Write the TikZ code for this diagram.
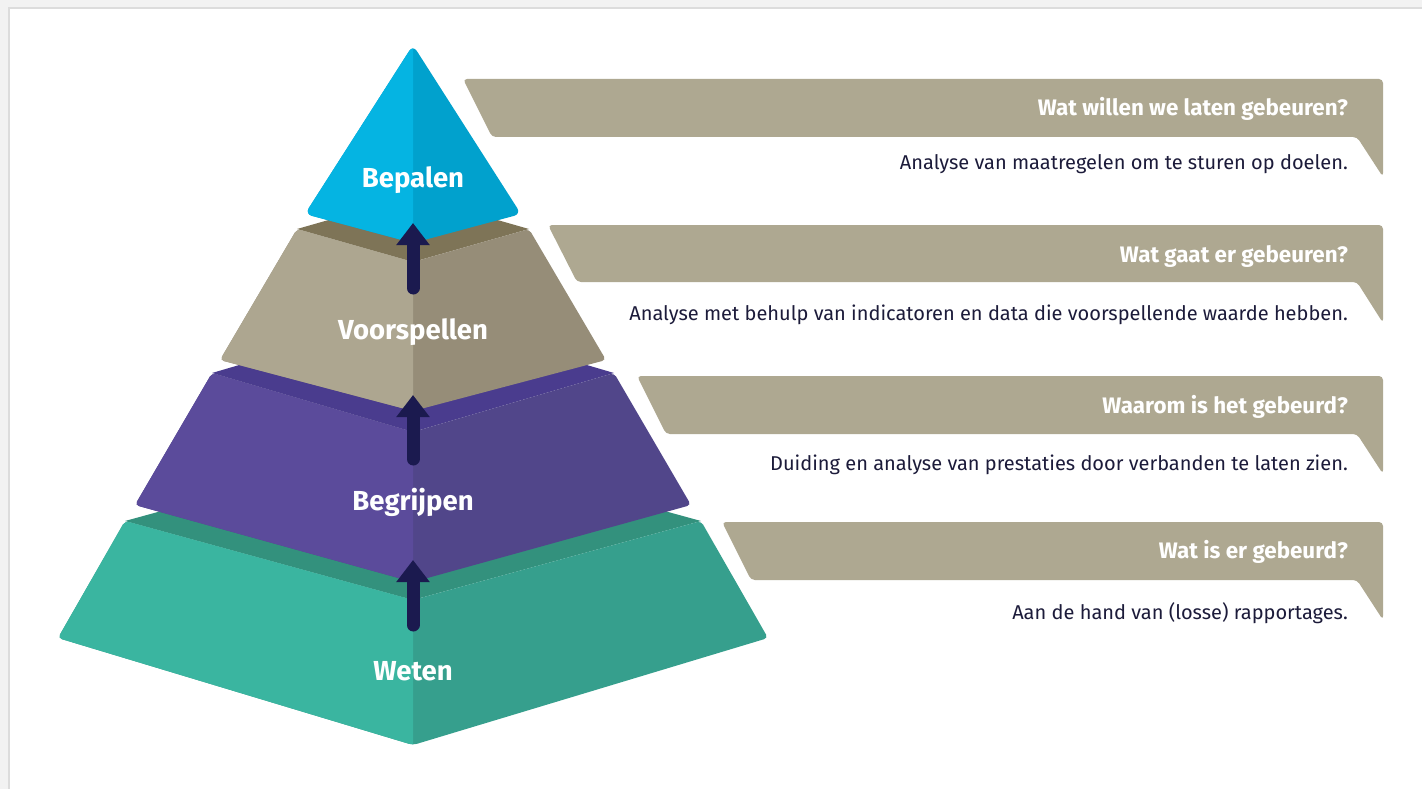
\documentclass[tikz,border=0pt]{standalone}
\usepackage{fontspec}
\setmainfont{Fira Sans}
\usetikzlibrary{arrows.meta}

\definecolor{frame}{HTML}{F2F2F2}
\definecolor{frameline}{HTML}{DCDCDC}
\definecolor{bluel}{HTML}{05B4E2}
\definecolor{bluer}{HTML}{01A1CD}
\definecolor{khakil}{HTML}{ADA690}
\definecolor{khakir}{HTML}{968D78}
\definecolor{khakit}{HTML}{7E7457}
\definecolor{purpl}{HTML}{5B4B9B}
\definecolor{purpr}{HTML}{51468A}
\definecolor{purpt}{HTML}{4A3C8E}
\definecolor{greenl}{HTML}{3AB5A0}
\definecolor{greenr}{HTML}{369F8D}
\definecolor{greent}{HTML}{33917D}
\definecolor{navy}{HTML}{1B1A4F}
\definecolor{banner}{HTML}{AEA891}
\definecolor{ink}{HTML}{1C1B3A}

\tikzstyle{lvl}=[inner sep=0pt, text=white, font=\fontsize{27.5}{31}\selectfont\bfseries, anchor=base]
\tikzstyle{q}=[inner sep=0pt, text=white, font=\fontsize{22.4}{26}\selectfont\bfseries, anchor=base east]
\tikzstyle{a}=[inner sep=0pt, text=ink, font=\fontsize{20}{24}\selectfont, anchor=base east]
\tikzstyle{up}=[draw=navy, line width=13pt, line cap=round, -{Triangle[width=32pt,length=22pt]}]
\tikzstyle{band}=[fill=banner, rounded corners=4pt]
\tikzstyle{face}=[rounded corners=4pt]
\tikzset{half/.style={path picture={\fill[#1] (0,0) rectangle (413,800);}}}

\begin{document}
\begin{tikzpicture}[x=1pt, y=-1pt]
	\useasboundingbox (0,0) rectangle (1422,789);
	\fill[frame] (0,0) rectangle (1422,789);
	\fill[white, draw=frameline, line width=2pt] (9,8) rectangle (1440,800);
	%
	\coordinate (w1) at (125,521);
	\coordinate (w2) at (413,600);
	\coordinate (w3) at (701,521);
	\coordinate (w4) at (768,638);
	\coordinate (w5) at (413,745);
	\coordinate (w6) at (58,638);
	\coordinate (wb) at (413,442);
	\fill[greent] (w1) -- (wb) -- (w3) -- (w2) -- cycle;
	\fill[face, greenr, half=greenl] (w1) -- (w2) -- (w3) -- (w4) -- (w5) -- (w6) -- cycle;
	%
	\coordinate (b1) at (212,373);
	\coordinate (b2) at (413,432);
	\coordinate (b3) at (614,373);
	\coordinate (b4) at (691,505);
	\coordinate (b5) at (413,582);
	\coordinate (b6) at (135,505);
	\coordinate (bb) at (413,314);
	\fill[purpt] (b1) -- (bb) -- (b3) -- (b2) -- cycle;
	\fill[face, purpr, half=purpl] (b1) -- (b2) -- (b3) -- (b4) -- (b5) -- (b6) -- cycle;
	%
	\coordinate (v1) at (297,229);
	\coordinate (v2) at (413,262);
	\coordinate (v3) at (529,229);
	\coordinate (v4) at (606,360);
	\coordinate (v5) at (413,411);
	\coordinate (v6) at (220,360);
	\coordinate (vb) at (413,196);
	\fill[khakit] (v1) -- (vb) -- (v3) -- (v2) -- cycle;
	\fill[face, khakir, half=khakil] (v1) -- (v2) -- (v3) -- (v4) -- (v5) -- (v6) -- cycle;
	%
	\coordinate (p1) at (413,45);
	\coordinate (p2) at (521,214);
	\coordinate (p3) at (413,243);
	\coordinate (p4) at (305,214);
	\fill[rounded corners=7pt, bluer, half=bluel] (p3) -- (p4) -- (p1) -- (p2) -- cycle;
	%
	\coordinate (u1) at (413,288);
	\coordinate (u2) at (413,223);
	\coordinate (u3) at (413,459);
	\coordinate (u4) at (413,395);
	\coordinate (u5) at (413,625);
	\coordinate (u6) at (413,560);
	\draw[up] (u1) -- (u2);
	\draw[up] (u3) -- (u4);
	\draw[up] (u5) -- (u6);
	%
	\draw (413,187) node[lvl] (bepalen) {Bepalen};
	\draw (413,339) node[lvl] (voorspellen) {Voorspellen};
	\draw (413,510) node[lvl] (begrijpen) {Begrijpen};
	\draw (413,680) node[lvl] (weten) {Weten};
	%
	\fill[band] (463,79) -- (1383,79) -- (1383,177) -- (1357,137) -- (492,137) -- cycle;
	\fill[band] (548,225) -- (1383,225) -- (1383,323) -- (1357,282) -- (577,282) -- cycle;
	\fill[band] (637,376) -- (1383,376) -- (1383,474) -- (1357,434) -- (666,434) -- cycle;
	\fill[band] (722,522) -- (1383,522) -- (1383,620) -- (1357,580) -- (751,580) -- cycle;
	%
	\draw (1348,116) node[q] (q1) {Wat willen we laten gebeuren?};
	\draw (1348,170) node[a] (a1) {Analyse van maatregelen om te sturen op doelen.};
	\draw (1348,262) node[q] (q2) {Wat gaat er gebeuren?};
	\draw (1348,320) node[a] (a2) {Analyse met behulp van indicatoren en data die voorspellende waarde hebben.};
	\draw (1348,413) node[q] (q3) {Waarom is het gebeurd?};
	\draw (1348,470) node[a] (a3) {Duiding en analyse van prestaties door verbanden te laten zien.};
	\draw (1348,558) node[q] (q4) {Wat is er gebeurd?};
	\draw (1348,619) node[a] (a4) {Aan de hand van (losse) rapportages.};
\end{tikzpicture}
\end{document}
